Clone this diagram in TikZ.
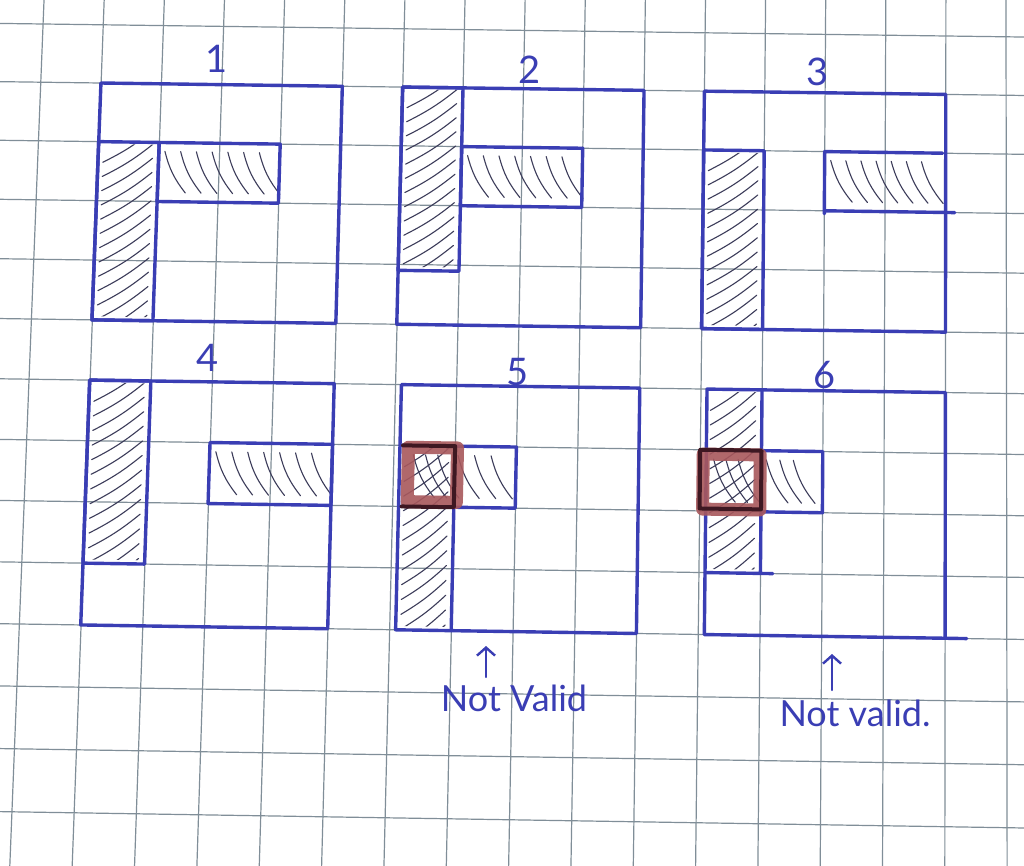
\documentclass[tikz,border=0pt]{standalone}
\usepackage{fontspec}
\setmainfont{Lato}
\usetikzlibrary{arrows.meta}
\definecolor{pen}{RGB}{58,62,180}
\definecolor{gridc}{RGB}{128,142,152}
\definecolor{hatchc}{RGB}{60,60,90}
\definecolor{marker}{RGB}{168,88,92}
\definecolor{darkred}{RGB}{62,24,34}

\pgfkeys{/gridcs/.cd, i/.store in=\gi, j/.store in=\gj}
\tikzdeclarecoordinatesystem{g}{%
  \pgfkeys{/gridcs/.cd,#1}%
  \pgfmathsetmacro\gI{\gi}\pgfmathsetmacro\gJ{\gj}%
  \pgfmathsetmacro\gx{43+(60.19+0.155*\gJ)*\gI-2.4*\gJ}%
  \pgfmathsetmacro\gy{24+58*\gJ+0.2*\gJ*\gJ+\gI*(0.8+0.015*\gJ)}%
  \pgfpointxy{\gx}{\gy}%
}

\tikzset{
  penline/.style={draw=pen, line width=1.7pt, line join=round, line cap=round},
  hatchline/.style={draw=hatchc, line width=0.55pt, line cap=round},
  gridline/.style={draw=gridc, line width=0.6pt},
  markerring/.style={draw=marker, line width=6.5pt, opacity=0.9, line join=round},
  darkline/.style={draw=darkred, line width=2pt, line cap=round, line join=round},
  lbl/.style={text=pen, font=\fontsize{19}{19}\selectfont, inner sep=0pt},
  note/.style={text=pen, font=\fontsize{18}{18}\selectfont, inner sep=0pt},
  penarrow/.style={draw=pen, line width=1.2pt, line cap=round, -{Straight Barb[length=4pt,width=9pt]}}
}

% rectangle in grid coordinates
\newcommand{\grect}[4]{\draw[penline] (g cs:i=#1,j=#2) -- (g cs:i=#3,j=#2) -- (g cs:i=#3,j=#4) -- (g cs:i=#1,j=#4) -- cycle;}

% "/" hatching of a vertical bar from i=#1 to #2, j=#3 to #4
\newcommand{\vhatch}[4]{%
  \begin{scope}
  \clip (g cs:i=#1+0.04,j=#3+0.04) -- (g cs:i=#2-0.04,j=#3+0.04) -- (g cs:i=#2-0.04,j=#4-0.06) -- (g cs:i=#1+0.04,j=#4-0.06) -- cycle;
  \pgfmathtruncatemacro\nh{((#4)-(#3))/0.24}%
  \foreach \k in {-1,...,\nh}{%
    \pgfmathsetmacro\ta{#3+0.03+0.24*\k}%
    \pgfmathsetmacro\tb{\ta+0.56}%
    \draw[hatchline] (g cs:i=#1+0.08,j=\tb) to[bend right=6] (g cs:i=#2-0.1,j=\ta);
  }
  \end{scope}}

% "\" hatching of a horizontal bar starting at i=#1, row j=#2; #3 strokes, start offset #4, step #5
\newcommand{\hhatch}[5]{%
  \foreach \k in {1,...,#3}{%
    \pgfmathsetmacro\sa{#1+#4+#5*(\k-1)}%
    \pgfmathsetmacro\sb{\sa+0.36}%
    \draw[hatchline] (g cs:i=\sa,j=#2+0.15) to[bend right=12] (g cs:i=\sb,j=#2+0.85);
  }}

\begin{document}
\begin{tikzpicture}[x=0.5pt,y=-0.5pt]
\useasboundingbox (0,0) rectangle (1024,866);
\fill[white] (0,0) rectangle (1024,866);
\clip (0,0) rectangle (1024,866);

% paper grid
\foreach \k in {0,...,16} \draw[gridline] (g cs:i=\k,j=-0.7) -- (g cs:i=\k,j=14.4);
\foreach \k in {0,...,13} \draw[gridline] (g cs:i=-0.9,j=\k) -- (g cs:i=16.6,j=\k);

% ---------- hatching ----------
\vhatch{1}{2}{2}{5}
\hhatch{2}{2}{7}{0.1}{0.26}
\vhatch{6}{7}{1}{4.1}
\hhatch{7}{2}{7}{0.1}{0.26}
\vhatch{11}{12}{2}{5}
\hhatch{13}{2}{7}{0.1}{0.25}
\vhatch{1}{2}{6}{9}
\hhatch{3}{7}{7}{0.1}{0.26}
\vhatch{6.1}{7}{7}{10}
\hhatch{7}{7}{3}{0.05}{0.27}
\hhatch{6.2}{7}{3}{0.12}{0.2}
\vhatch{11.08}{12}{6}{9}
\hhatch{12}{7}{3}{0.08}{0.22}
\hhatch{11.1}{7}{3}{0.12}{0.2}

% ---------- panel 1 ----------
\grect{1}{1}{5}{5}
\grect{1}{2}{2}{5}
\grect{2}{2}{4}{3}
% ---------- panel 2 ----------
\grect{6}{1}{10}{5}
\grect{6}{1}{7}{4.1}
\grect{7}{2}{9}{3}
% ---------- panel 3 ----------
\grect{11}{1}{15}{5}
\grect{11}{2}{12}{5}
\draw[penline] (g cs:i=14.95,j=2) -- (g cs:i=13,j=2) -- (g cs:i=13,j=3.05);
\draw[penline] (g cs:i=13,j=3) -- (g cs:i=15.15,j=3);
% ---------- panel 4 ----------
\grect{1}{6}{5}{10}
\grect{1}{6}{2}{9}
\grect{3}{7}{5}{8}
% ---------- panel 5 ----------
\grect{6.1}{6}{10}{10}
\draw[penline] (g cs:i=6.1,j=7) -- (g cs:i=7,j=7) -- (g cs:i=7,j=10);
\grect{7}{7}{8}{8}
% ---------- panel 6 ----------
\draw[penline] (g cs:i=11.1,j=10) -- (g cs:i=11.1,j=6) -- (g cs:i=15,j=6) -- (g cs:i=15,j=10);
\draw[penline] (g cs:i=11.1,j=10) -- (g cs:i=15.35,j=10);
\draw[penline] (g cs:i=11.1,j=9) -- (g cs:i=12.2,j=9);
\draw[penline] (g cs:i=12,j=6) -- (g cs:i=12,j=9);
\grect{12}{7}{13}{8}

% ---------- red highlights ----------
\draw[markerring] (g cs:i=6.24,j=7.03) -- (g cs:i=7.04,j=7.03) -- (g cs:i=7.04,j=7.92) -- (g cs:i=6.24,j=7.92) -- cycle;
\draw[darkline] (g cs:i=6.15,j=7) -- (g cs:i=7,j=7) -- (g cs:i=7,j=8) -- (g cs:i=6.15,j=8);
\draw[markerring] (g cs:i=11.05,j=7.07) -- (g cs:i=11.98,j=7.07) -- (g cs:i=11.98,j=7.97) -- (g cs:i=11.05,j=7.97) -- cycle;
\draw[darkline] (g cs:i=11,j=7) -- (g cs:i=12,j=7) -- (g cs:i=12,j=7.96) -- (g cs:i=11,j=7.96) -- cycle;

% ---------- labels ----------
\node[lbl] (l1) at (217,59) {1};
\node[lbl] (l2) at (530,70) {2};
\node[lbl] (l3) at (818,72) {3};
\node[lbl] (l4) at (208,358) {4};
\node[lbl] (l5) at (518,372) {5};
\node[lbl] (l6) at (825,375) {6};

\node[note] (nv5) at (514,698) {Not Valid};
\node[note] (nv6) at (855,713) {Not valid.};

\coordinate (a5tail) at (486,677);
\coordinate (a5head) at (486,646);
\coordinate (a6tail) at (832,690);
\coordinate (a6head) at (832,654);
\draw[penarrow] (a5tail) -- (a5head);
\draw[penarrow] (a6tail) -- (a6head);
\end{tikzpicture}
\end{document}
